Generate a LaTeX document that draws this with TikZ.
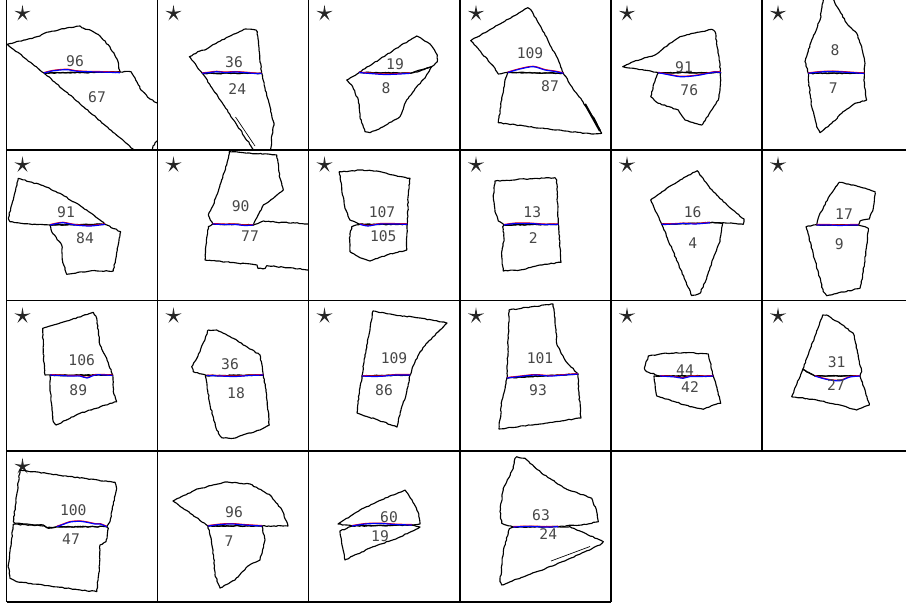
\documentclass[tikz,border=0pt]{standalone}
\usepackage{fontspec}
\newfontfamily\etiq{DejaVu Sans Mono}
\usetikzlibrary{shapes.geometric,decorations.pathmorphing}
\newcommand{\costura}[1]{%
  \draw[rojo] plot[smooth] coordinates {#1};
  \draw[azul] plot[smooth] coordinates {#1};}
\begin{document}
\begin{tikzpicture}[x=0.75pt,y=-0.75pt,
    rejilla/.style={line width=0.9pt},
    pieza/.style={draw, line width=0.85pt, line join=round,
      decorate, decoration={random steps, segment length=1.8pt, amplitude=0.35pt}},
    rojo/.style={draw=red, line width=0.8pt, yshift=0.35pt},
    azul/.style={draw=blue, line width=0.9pt},
    etiqueta/.style={font=\etiq\fontsize{11}{12}\selectfont, text=black!72, inner sep=0pt},
    estrella/.style={star, star points=5, star point ratio=4, fill=black!85,
      minimum size=13pt, inner sep=0pt}]
\pgfmathsetseed{7}
\useasboundingbox (0,0) rectangle (906,606);
% Rejilla
\foreach \x in {6.5,157.5,308.5,460,611}
  \draw[rejilla] (\x,0) -- (\x,602);
\draw[rejilla] (762,0) -- (762,451);
\foreach \y in {150,300.5,451}
  \draw[rejilla] (6.5,\y) -- (906,\y);
\draw[rejilla] (6.5,602) -- (611,602);
% Estrellas
\foreach \x/\c in {6.5/1,157.5/2,308.5/3,460/4,611/5,762/6}
  \foreach \y/\r in {13.5/1,165/2,316/3}
    \node[estrella] (s\r\c) at (\x+16,\y) {};
\node[estrella] (s41) at (22.5,466.5) {};
% Fila 1
\begin{scope}
  \clip (6.5,-2) rectangle (157.5,149);
  \draw[pieza] (7.3,44.3) -- (25,40) -- (40,36) -- (45,33) -- (55,31) -- (62,28.7) -- (72,27.5) -- (80,26) -- (83,28) -- (92,31) -- (100,36) -- (110,47) -- (117,59) -- (120,72) -- (44,73) -- cycle;
  \draw[pieza] (44,73) -- (120,72) -- (131,71.7) -- (135,78) -- (141,90) -- (150,99) -- (162,106) -- (180,130) -- (157,141) -- (153,146) -- (152,152) -- (140,160) -- (133,149) -- cycle;
  \costura{(44,73) (52,71) (60,70) (68,69.7) (75,71) (85,71.7) (100,72) (120,72.7)}
\end{scope}
\node[etiqueta] (a11) at (75,61) {96};
\node[etiqueta] (b11) at (97,97) {67};
\begin{scope}
  \clip (157.5,-2) rectangle (308.5,149);
  \draw[pieza] (189.3,56.7) -- (200,51) -- (205,50) -- (218,42) -- (233.3,34.3) -- (245.7,29) -- (256,30) -- (257.3,31.7) -- (259,50) -- (261.7,73.3) -- (202.3,73.3) -- cycle;
  \draw[pieza] (202.3,73.3) -- (261.7,73.3) -- (265,88) -- (268.3,100) -- (274,125) -- (272,135) -- (270.7,152) -- (255,152) -- cycle;
  \draw[line width=0.5pt] (235.5,117) -- (255,146);
  \costura{(202.3,73.3) (210,72.5) (216.7,71.7) (225,72.5) (235,72) (246.7,72.7) (255,73.5) (261.7,73.5)}
\end{scope}
\node[etiqueta] (a12) at (234,62.3) {36};
\node[etiqueta] (b12) at (237.3,89.3) {24};
\begin{scope}
  \clip (308.5,-2) rectangle (460,149);
  \draw[pieza] (359,72.3) -- (380,59) -- (400,46) -- (416.7,36) -- (423.3,40) -- (430,44) -- (433.3,48.3) -- (437.3,55) -- (437.3,61.7) -- (432.7,66) -- (420,71) -- (410,73.3) -- cycle;
  \draw[pieza] (346.7,80) -- (359,72.7) -- (410,73.3) -- (431.7,66.7) -- (425,78) -- (416.7,86.7) -- (406.7,100) -- (400,116.7) -- (383.3,126.7) -- (370,132.7) -- (365,131.7) -- (360,116.7) -- (358.3,100) -- (351.7,85) -- cycle;
  \costura{(359,72.5) (370,73.5) (385,74.5) (400,74) (410,73.3)}
\end{scope}
\node[etiqueta] (a13) at (395,64.3) {19};
\node[etiqueta] (b13) at (386,88.3) {8};
\begin{scope}
  \clip (460,-2) rectangle (611,149);
  \draw[pieza] (470.7,40.7) -- (500,24) -- (527.7,7.7) -- (531,10) -- (545,35) -- (558.3,60) -- (563.3,73.3) -- (507.7,72.3) -- (498.3,74) -- (495,68.3) -- cycle;
  \draw[pieza] (507.7,72.7) -- (563.3,73.3) -- (572,87) -- (581.7,100) -- (595,120) -- (601.7,133.3) -- (591.7,134) -- (555,130) -- (525,126) -- (498.3,122.7) -- (501.7,100) -- (505,80) -- cycle;
  \draw[line width=1.6pt] (585,104) -- (600,131);
  \costura{(507.7,72.5) (520,69) (533.3,66.7) (545,70) (555,71.5) (563.3,73.3)}
\end{scope}
\node[etiqueta] (a14) at (530,53.3) {109};
\node[etiqueta] (b14) at (550,86) {87};
\begin{scope}
  \clip (611,-2) rectangle (762,149);
  \draw[pieza] (622.7,66.7) -- (633.3,61.7) -- (655,55) -- (668,45) -- (680,36.7) -- (695,33) -- (711.7,29.3) -- (715,31.7) -- (718,50) -- (720.7,72.7) -- (658.3,72.7) -- cycle;
  \draw[pieza] (658.3,72.7) -- (720.7,72.7) -- (720,90) -- (718.3,100) -- (711.7,110) -- (701.7,125) -- (685,120) -- (678.3,110) -- (658.3,103.3) -- (650.7,96.7) -- (654,83.3) -- cycle;
  \costura{(658.3,72.7) (670,75) (680,76.7) (690,76.3) (700,75) (715,72) (720.7,72.7)}
\end{scope}
\node[etiqueta] (a15) at (684,67.3) {91};
\node[etiqueta] (b15) at (689.3,90) {76};
\begin{scope}
  \clip (762,-2) rectangle (906,149);
  \draw[pieza] (823,-6) -- (823.3,0) -- (820,20) -- (811.7,40) -- (805,61.7) -- (808.3,73.3) -- (864.3,73.3) -- (865,63.3) -- (861.7,46.7) -- (856.7,33.3) -- (846.7,23.3) -- (835,3.3) -- (832.3,-6) -- cycle;
  \draw[pieza] (808.3,73.3) -- (864.3,73.3) -- (864.3,86.7) -- (866.7,100) -- (855,103.3) -- (841.7,113.3) -- (831.7,123.3) -- (820,132.7) -- (816.7,126.7) -- (811.7,106.7) -- (808.3,80) -- cycle;
  \costura{(808.3,73.3) (820,72) (833,71.5) (850,72.5) (864.3,73.5)}
\end{scope}
\node[etiqueta] (a16) at (835,50) {8};
\node[etiqueta] (b16) at (833.3,88.3) {7};
% Fila 2
\begin{scope}
  \clip (6.5,150) rectangle (157.5,300.5);
  \draw[pieza] (18.3,178.3) -- (8.3,218.3) -- (10,221.7) -- (30,224) -- (50,225) -- (105,224.3) -- (100,220) -- (86.7,210) -- (60,193.3) -- (43.3,185.7) -- cycle;
  \draw[pieza] (50,225) -- (105,224.3) -- (120.7,231.7) -- (113.3,271) -- (90,271) -- (66.7,274.3) -- (62.7,261.7) -- (61.7,245) -- (51.7,231.7) -- cycle;
  \costura{(50,225) (57,223.5) (63,222.7) (70,224) (75,225) (90,226) (105,224.3)}
\end{scope}
\node[etiqueta] (a21) at (66,212.3) {91};
\node[etiqueta] (b21) at (85,238.3) {84};
\begin{scope}
  \clip (157.5,150) rectangle (308.5,300.5);
  \draw[pieza] (229.3,151.7) -- (276.7,155) -- (280,178.3) -- (283.3,190) -- (273.3,198.3) -- (263.3,205) -- (253.3,225) -- (212.7,224) -- (208.3,215) -- (213.3,205) -- (220,185) -- (226.7,165) -- cycle;
  \draw[pieza] (212.7,224) -- (253.3,225) -- (263.3,221) -- (276.7,222.3) -- (295,223) -- (312,224) -- (312,270) -- (266.7,265.7) -- (265,268.5) -- (258,268.5) -- (257,265) -- (205,260) -- (206,245) -- (208.3,226.7) -- cycle;
  \costura{(212.7,224) (225,224.5) (235,224.5) (245,225.5) (253.3,225)}
\end{scope}
\node[etiqueta] (a22) at (240.7,206) {90};
\node[etiqueta] (b22) at (250,235.7) {77};
\begin{scope}
  \clip (308.5,150) rectangle (460,300.5);
  \draw[pieza] (339.3,171.7) -- (350,171) -- (360,170) -- (376.7,171) -- (393.3,175) -- (410,178.3) -- (408.3,195) -- (407.3,224.3) -- (360,224.3) -- (350,220) -- (345,208.3) -- (341.7,188.3) -- cycle;
  \draw[pieza] (351.7,226.7) -- (360,224.3) -- (407.3,224.3) -- (406.7,250) -- (386.7,255) -- (370,261) -- (360,257.7) -- (350,251.7) -- (349.3,238.3) -- cycle;
  \costura{(360,224.3) (368,226) (380,224) (395,224) (407.3,224.3)}
\end{scope}
\node[etiqueta] (a23) at (382,212.3) {107};
\node[etiqueta] (b23) at (383.3,236) {105};
\begin{scope}
  \clip (460,150) rectangle (611,300.5);
  \draw[pieza] (495,181) -- (525,179) -- (555,177.7) -- (556.7,180) -- (558.3,224.3) -- (504,225) -- (498.3,221) -- (495,211.7) -- (493.3,195) -- cycle;
  \draw[pieza] (502.7,226.7) -- (504,225) -- (558.3,224.3) -- (561,262.3) -- (540,265) -- (520,270) -- (503.3,271) -- (501.7,255) -- (504,238.3) -- cycle;
  \costura{(504,225) (515,223.5) (530,223.5) (545,224.5) (558.3,224.3)}
\end{scope}
\node[etiqueta] (a24) at (532.3,212.3) {13};
\node[etiqueta] (b24) at (533.3,237.7) {2};
\begin{scope}
  \clip (611,150) rectangle (762,300.5);
  \draw[pieza] (650.7,200) -- (666.7,188.3) -- (680,180) -- (697.3,170.7) -- (710,188.3) -- (723.3,201.7) -- (736.7,213.3) -- (744,219) -- (743.3,224.3) -- (733.3,223.3) -- (720,222.7) -- (710,222.7) -- (661.7,224.3) -- cycle;
  \draw[pieza] (661.7,224.3) -- (710,222.7) -- (722.7,223.3) -- (720,241.7) -- (713.3,258.3) -- (706.7,278.3) -- (700,293.3) -- (691.7,295.7) -- cycle;
  \costura{(661.7,224.3) (675,224) (685,223.5) (695,224) (710,222.7)}
\end{scope}
\node[etiqueta] (a25) at (692.7,212.3) {16};
\node[etiqueta] (b25) at (692.7,243.3) {4};
\begin{scope}
  \clip (762,150) rectangle (906,300.5);
  \draw[pieza] (839.3,182.3) -- (853.3,185) -- (875,191.7) -- (873.3,208.3) -- (869.3,219) -- (860,221) -- (858.3,225) -- (816.7,225) -- (819.3,215) -- (830,195) -- cycle;
  \draw[pieza] (806,226.7) -- (813.3,225) -- (858.3,225) -- (868.3,228.3) -- (866.7,245) -- (863.3,271.7) -- (860,288.3) -- (826.7,295.7) -- (823.3,291.7) -- cycle;
  \costura{(816.7,225) (830,225) (840,225.5) (850,225) (858.3,225)}
\end{scope}
\node[etiqueta] (a26) at (844,214) {17};
\node[etiqueta] (b26) at (839.3,244) {9};
% Fila 3
\begin{scope}
  \clip (6.5,300.5) rectangle (157.5,451);
  \draw[pieza] (42.7,328.3) -- (66.7,321) -- (93.3,312.3) -- (96.7,318.3) -- (100,345) -- (106.7,358.3) -- (112.7,375) -- (50,375) -- (45,375) -- (43.3,351.7) -- cycle;
  \draw[pieza] (50,375.7) -- (112.7,375) -- (113.3,391.7) -- (116.7,401.7) -- (80,413.3) -- (70,418.3) -- (56,425) -- (53.3,421.7) -- (51.7,405) -- (50,388.3) -- cycle;
  \costura{(50,375) (60,375.5) (70,376) (80,376) (87,378) (95,375) (105,375) (112.7,375.5)}
\end{scope}
\node[etiqueta] (a31) at (81.7,360) {106};
\node[etiqueta] (b31) at (78.3,390) {89};
\begin{scope}
  \clip (157.5,300.5) rectangle (308.5,451);
  \draw[pieza] (208.3,330) -- (216.7,330) -- (233.3,338.3) -- (260,355) -- (263.3,375) -- (206.7,375.7) -- (193.3,371.7) -- (191.7,366.7) -- (200,351.7) -- cycle;
  \draw[pieza] (205.3,375.7) -- (263.3,375) -- (266.7,395) -- (269.3,425) -- (260,430) -- (233.3,438.3) -- (221.7,437.7) -- (216.7,430) -- (210,405) -- cycle;
  \costura{(206.7,375.5) (220,376) (235,376.5) (250,375.5) (263.3,375)}
\end{scope}
\node[etiqueta] (a32) at (230,364) {36};
\node[etiqueta] (b32) at (236,392.7) {18};
\begin{scope}
  \clip (308.5,300.5) rectangle (460,451);
  \draw[pieza] (373,311) -- (395,315) -- (420,318) -- (432,320) -- (447,323) -- (438,332) -- (428,342) -- (420,352) -- (415,362) -- (410,375) -- (362,376) -- (366,350) -- (370,330) -- cycle;
  \draw[pieza] (362,376) -- (410,375) -- (406,395) -- (401,410) -- (397,427) -- (378,420) -- (357,413) -- (359,395) -- cycle;
  \costura{(362,376) (375,376.5) (385,376) (395,375) (410,375)}
\end{scope}
\node[etiqueta] (a33) at (394,358) {109};
\node[etiqueta] (b33) at (384,390) {86};
\begin{scope}
  \clip (460,300.5) rectangle (611,451);
  \draw[pieza] (509,310) -- (530,307) -- (553,304) -- (555,320) -- (557,345) -- (565,360) -- (578,374) -- (507,378) -- (508,345) -- cycle;
  \draw[pieza] (507,378) -- (578,374) -- (579,395) -- (581,418) -- (540,424) -- (499,429) -- (502,400) -- cycle;
  \costura{(507,378) (520,376.5) (535,375) (550,376) (565,375) (578,374)}
\end{scope}
\node[etiqueta] (a34) at (540,358) {101};
\node[etiqueta] (b34) at (538,390) {93};
\begin{scope}
  \clip (611,300.5) rectangle (762,451);
  \draw[pieza] (648.3,356) -- (666.7,353.3) -- (686.7,352.7) -- (708.3,354) -- (710,361.7) -- (713.3,376) -- (660,376) -- (646.7,371.7) -- (644.3,368.3) -- cycle;
  \draw[pieza] (654,376) -- (713.3,376) -- (717.3,390) -- (720.7,403.3) -- (713.3,405) -- (703.3,409.3) -- (690,406.7) -- (670,400) -- (656.7,396) -- (655,383.3) -- cycle;
  \costura{(660,376) (675,377) (683,378.3) (690,376.5) (700,376.5) (713.3,376)}
\end{scope}
\node[etiqueta] (a35) at (685,370) {44};
\node[etiqueta] (b35) at (690,386.7) {42};
\begin{scope}
  \clip (762,300.5) rectangle (906,451);
  \draw[pieza] (822.7,315) -- (826.7,315) -- (840,323.3) -- (853.3,333.3) -- (858.3,356.7) -- (861.7,371.7) -- (860,376) -- (815,376) -- (802.7,369.3) -- cycle;
  \draw[pieza] (802.7,369.3) -- (815,376) -- (860,376) -- (865,390) -- (869.3,405) -- (856.7,410) -- (840,405) -- (816.7,400) -- (791.7,396.7) -- cycle;
  \costura{(815,376) (823,378.5) (830,380) (840,380.7) (850,377) (860,376)}
\end{scope}
\node[etiqueta] (a36) at (836.7,361.7) {31};
\node[etiqueta] (b36) at (836,385) {27};
% Fila 4
\begin{scope}
  \clip (6.5,451) rectangle (157.5,602);
  \draw[pieza] (20,470) -- (115,482.3) -- (116.7,488.3) -- (111.7,511.7) -- (110,521.7) -- (106.7,526.7) -- (56.7,526.7) -- (46.7,527.7) -- (43.3,525) -- (15,523.3) -- (13.3,521.7) -- (16.7,495) -- cycle;
  \draw[pieza] (13.3,524.3) -- (43.3,525.7) -- (48.3,528.3) -- (56.7,526.7) -- (106.7,526.7) -- (108.3,528.3) -- (106,541.7) -- (100,545) -- (99.3,568.3) -- (96.7,591.7) -- (66.7,588.3) -- (16.7,581.7) -- (10,578.3) -- (8.3,565) -- (11.7,538.3) -- cycle;
  \costura{(56.7,526.7) (63,524.5) (70,522) (80,521.3) (88,522.5) (95,524) (100,524) (106.7,526.7)}
\end{scope}
\node[etiqueta] (a41) at (73.3,510) {100};
\node[etiqueta] (b41) at (71,539.3) {47};
\begin{scope}
  \clip (157.5,451) rectangle (308.5,602);
  \draw[pieza] (173,501) -- (195,490) -- (225,482) -- (250,484) -- (270,495) -- (282,510) -- (288,526) -- (262,526) -- (208,526) -- cycle;
  \draw[pieza] (208,526) -- (262,526) -- (265,540) -- (260,560) -- (248,566) -- (235,580) -- (220,588) -- (215,575) -- (213,550) -- (210,535) -- cycle;
  \costura{(208,526) (220,524.5) (232,524) (245,525) (262,526)}
\end{scope}
\node[etiqueta] (a42) at (234,512) {96};
\node[etiqueta] (b42) at (229,541) {7};
\begin{scope}
  \clip (308.5,451) rectangle (460,602);
  \draw[pieza] (338,524) -- (360,510) -- (385,498) -- (405,490) -- (412,500) -- (418,512) -- (420,524) -- (412,525) -- (352,526) -- cycle;
  \draw[pieza] (340,531) -- (352,526) -- (412,525) -- (420,527) -- (400,537) -- (370,548) -- (345,560) -- (342,545) -- cycle;
  \costura{(352,526) (365,524) (380,523.5) (395,524.5) (412,525)}
\end{scope}
\node[etiqueta] (a43) at (389,517) {60};
\node[etiqueta] (b43) at (380,536) {19};
\begin{scope}
  \clip (460,451) rectangle (611,602);
  \draw[pieza] (516.7,456.7) -- (525,458.3) -- (541.7,473.3) -- (565,488.3) -- (591.7,498.3) -- (596.7,511.7) -- (598.3,521.7) -- (581.7,525) -- (566.7,525.7) -- (558.3,526.7) -- (513.3,527) -- (501.7,523.3) -- (500,511.7) -- (503.3,488.3) -- (513.3,468.3) -- (515,458.3) -- cycle;
  \draw[pieza] (510,528.3) -- (513.3,527) -- (558.3,526.7) -- (570,526.7) -- (581.7,531.7) -- (603.3,541.7) -- (600,545) -- (555,565) -- (501.7,585) -- (500,581.7) -- (503.3,551.7) -- (508.3,531.7) -- cycle;
  \draw[line width=0.5pt] (551,561) -- (590,546.5);
  \costura{(513.3,527) (530,526.5) (545,527) (558.3,526.7)}
\end{scope}
\node[etiqueta] (a44) at (541,515) {63};
\node[etiqueta] (b44) at (548.3,534.3) {24};
\end{tikzpicture}
\end{document}
